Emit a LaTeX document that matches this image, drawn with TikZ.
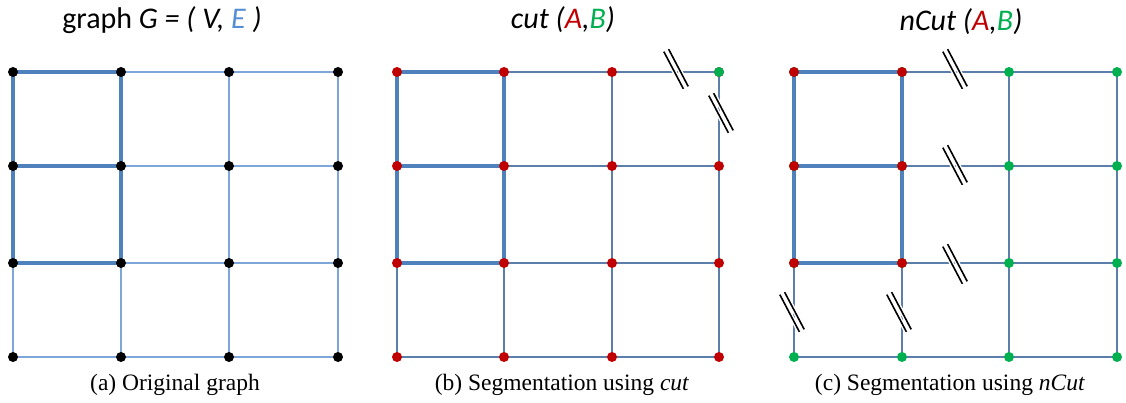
\documentclass[tikz,border=0pt]{standalone}
\usepackage{fontspec}
\setmainfont{Liberation Serif}
\newfontfamily\titlefont{Carlito}
\usetikzlibrary{backgrounds}
\definecolor{thickblue}{HTML}{4F81BD}
\definecolor{thinblueA}{HTML}{7EA6D8}
\definecolor{thinblueB}{HTML}{5B7FAA}
\definecolor{redA}{HTML}{C00000}
\definecolor{greenB}{HTML}{00B050}
\definecolor{lightE}{HTML}{558ED5}
\tikzset{
  dot/.style={circle,inner sep=0pt,minimum size=10pt,fill=#1},
  thickedge/.style={draw=thickblue,line width=4pt},
  thinedge/.style={draw=#1,line width=1.3pt},
  titletext/.style={font=\titlefont\fontsize{30}{34}\selectfont,anchor=center},
  captiontext/.style={font=\fontsize{23.5}{28}\selectfont,anchor=center},
  cutmark/.pic={
    \foreach \s in {-2.7,2.7}{
      \draw[white,line width=4.5pt] (\s*0.885-21*0.466, -\s*0.466-21*0.885) -- (\s*0.885+21*0.466, -\s*0.466+21*0.885);
    }
    \foreach \s in {-2.7,2.7}{
      \draw[black,line width=1.6pt] (\s*0.885-21*0.466, -\s*0.466-21*0.885) -- (\s*0.885+21*0.466, -\s*0.466+21*0.885);
    }
  }
}
\begin{document}
\begin{tikzpicture}[x=1pt,y=-1pt]
\useasboundingbox (0,0) rectangle (1126,403);
% ---------- grid (a)
\foreach \i/\x in {0/13,1/121,2/229,3/338}{
  \foreach \j/\y in {0/72,1/166,2/263,3/357}{
    \node[dot=black] (a-\i-\j) at (\x,\y) {};
  }
}
% ---------- grid (b)
\foreach \i/\x in {0/397,1/504,2/612,3/719}{
  \foreach \j/\y in {0/72,1/166,2/263,3/357}{
    \node[dot=redA] (b-\i-\j) at (\x,\y) {};
  }
}
\node[dot=greenB] (b-3-0) at (719,72) {};
% ---------- grid (c)
\foreach \i/\x in {0/794,1/902,2/1009,3/1117}{
  \foreach \j/\y in {0/72,1/166,2/263,3/357}{
    \node[dot=greenB] (c-\i-\j) at (\x,\y) {};
  }
}
\foreach \i/\x in {0/794,1/902}{
  \foreach \j/\y in {0/72,1/166,2/263}{
    \node[dot=redA] (c-\i-\j) at (\x,\y) {};
  }
}
% ---------- edges
\begin{scope}[on background layer]
\foreach \g/\c in {a/thinblueA,b/thinblueB,c/thinblueB}{
  \foreach \i/\ni in {0/1,1/2,2/3}{
    \foreach \j in {0,1,2,3}{
      \draw[thinedge=\c] (\g-\i-\j.center) -- (\g-\ni-\j.center);
      \draw[thinedge=\c] (\g-\j-\i.center) -- (\g-\j-\ni.center);
    }
  }
  \foreach \j in {0,1,2}{
    \draw[thickedge] (\g-0-\j.center) -- (\g-1-\j.center);
  }
  \foreach \i in {0,1}{
    \draw[thickedge] (\g-\i-0.center) -- (\g-\i-1.center) -- (\g-\i-2.center);
  }
}
\end{scope}
% ---------- cut marks
\pic at (676,69) {cutmark};
\pic at (721,113) {cutmark};
\pic at (955,69) {cutmark};
\pic at (955,165) {cutmark};
\pic at (955,264) {cutmark};
\pic at (792,312) {cutmark};
\pic at (899,312) {cutmark};
% ---------- titles
\node[titletext] (ta) at (162,20) {graph \textit{G = ( V, \textcolor{lightE}{E} )}};
\node[titletext] (tb) at (563,20) {\textit{cut (\textcolor{redA}{A},\textcolor{greenB}{B})}};
\node[titletext] (tc) at (961,22) {\textit{nCut (\textcolor{redA}{A},\textcolor{greenB}{B})}};
% ---------- captions
\node[captiontext] (ca) at (175,385) {(a) Original graph};
\node[captiontext] (cb) at (562,385) {(b) Segmentation using \textit{cut}};
\node[captiontext] (cc) at (950,385) {(c) Segmentation using \textit{nCut}};
\end{tikzpicture}
\end{document}
